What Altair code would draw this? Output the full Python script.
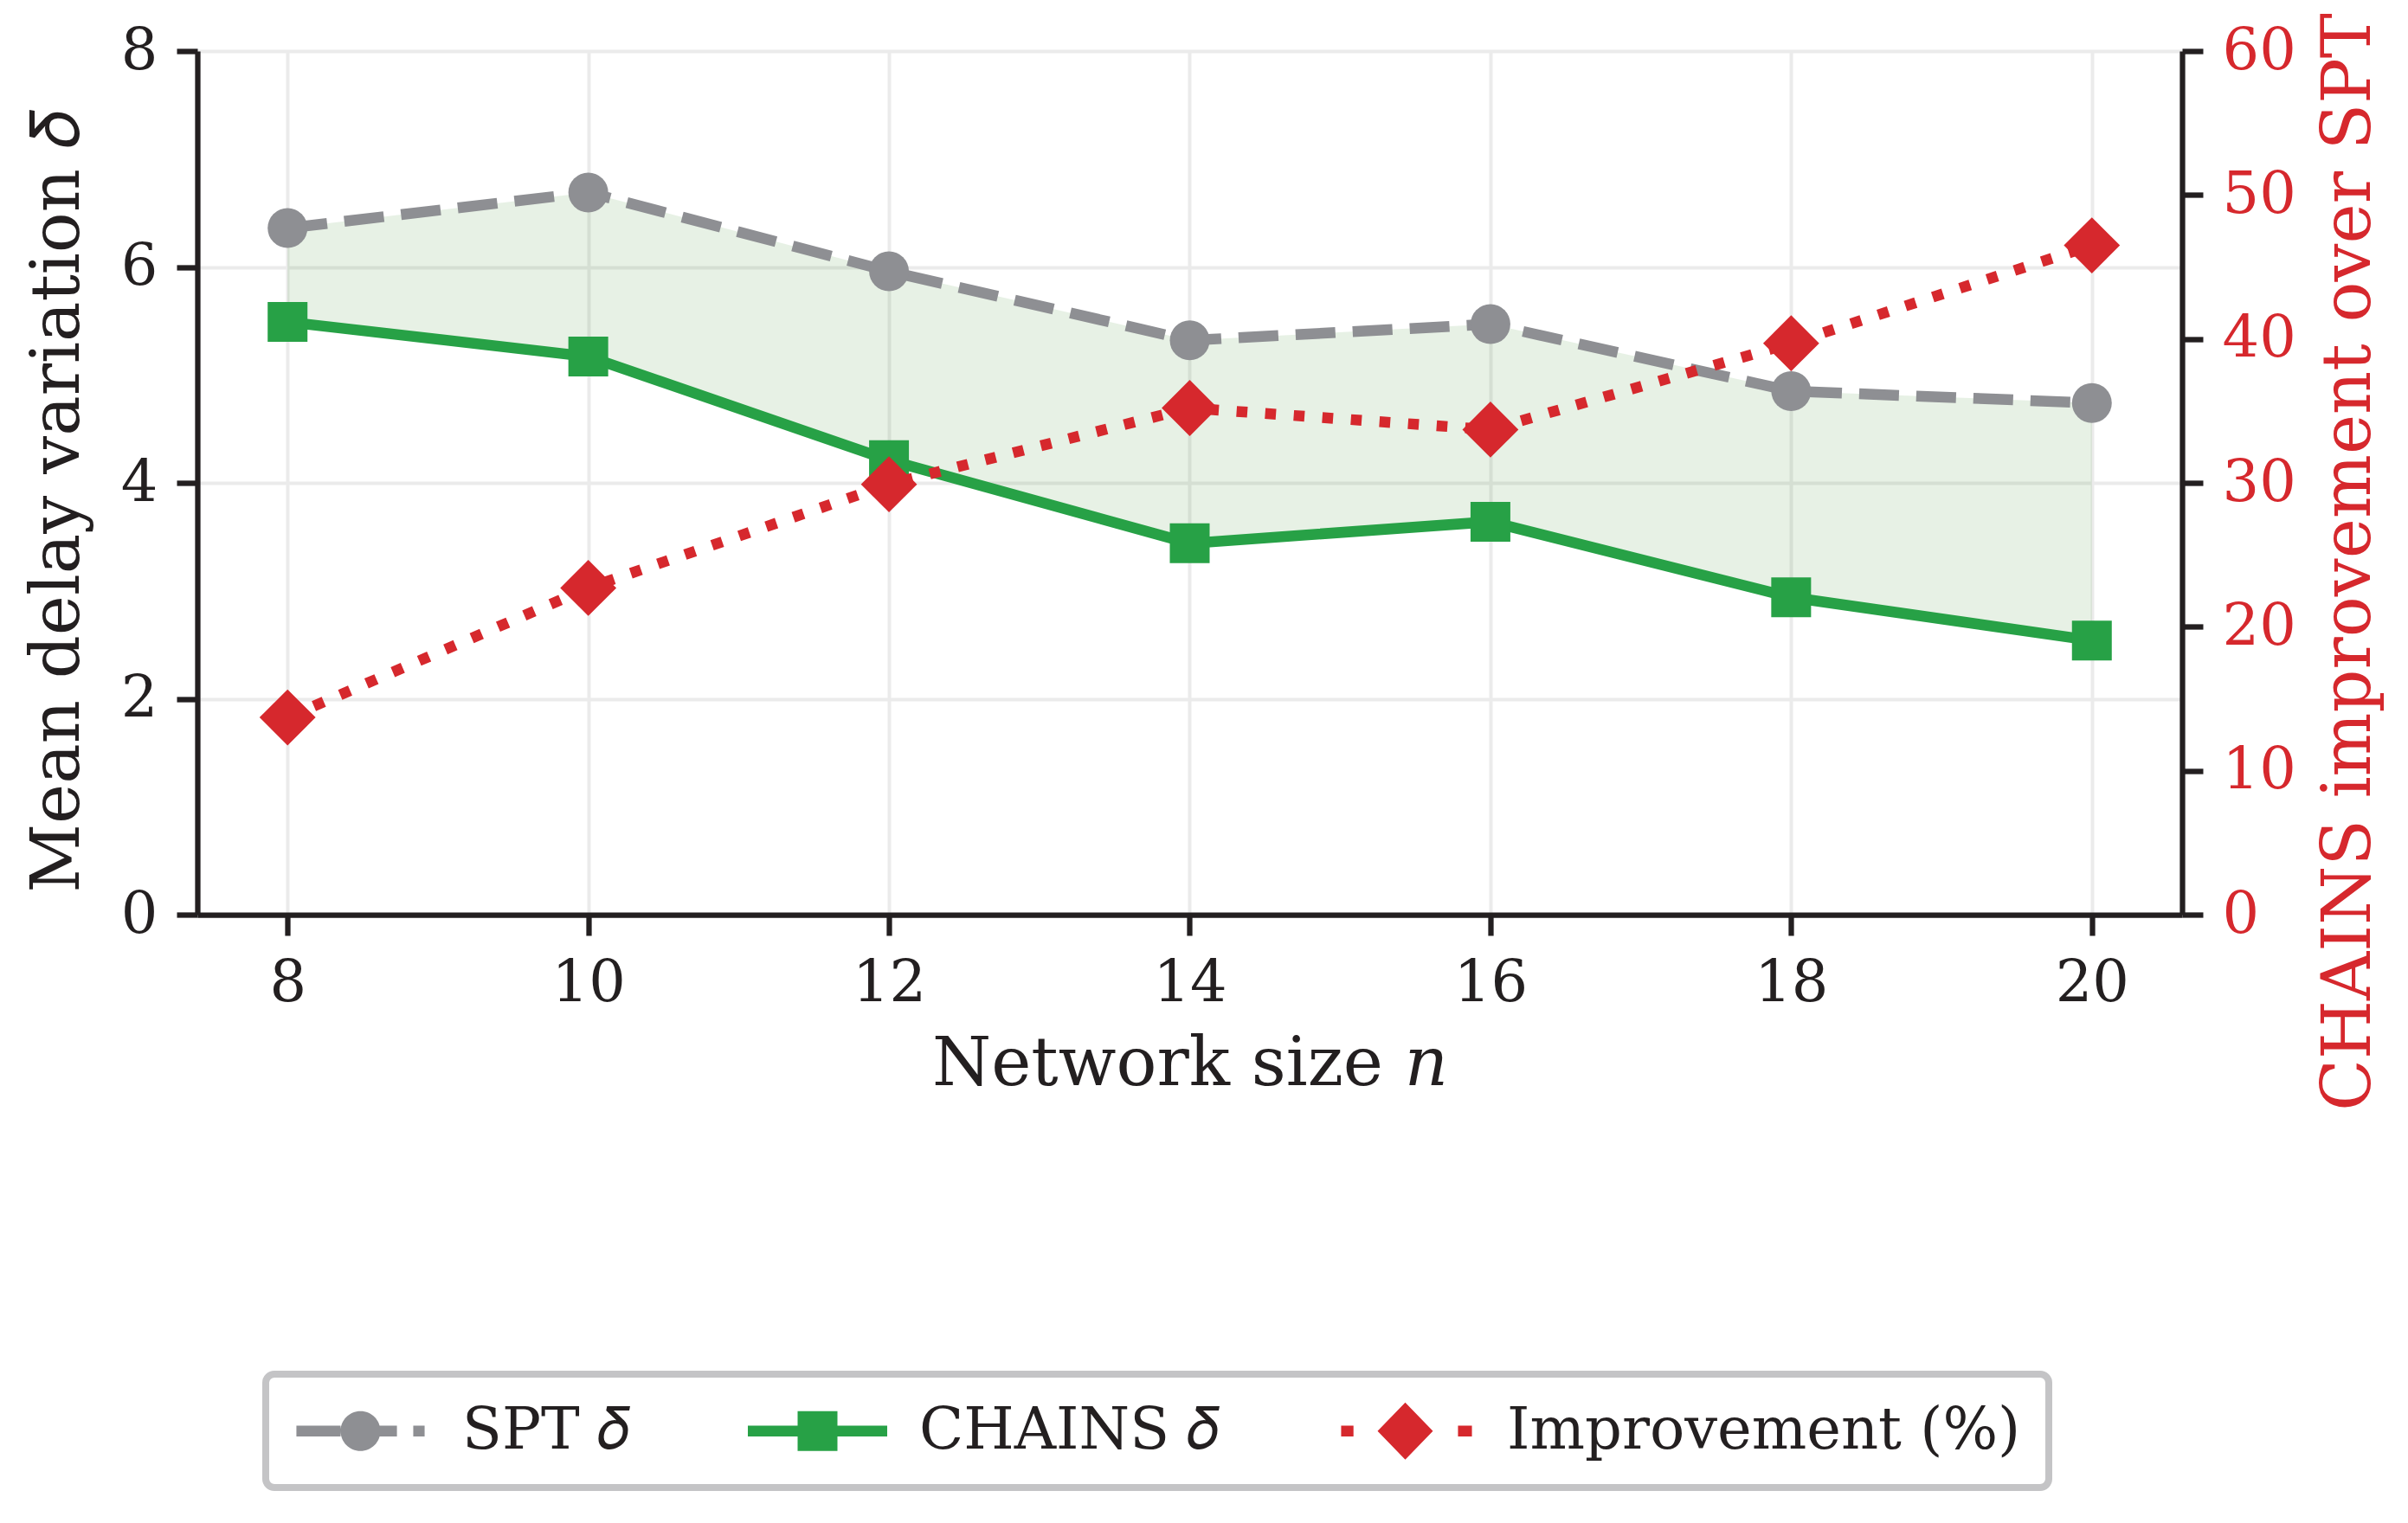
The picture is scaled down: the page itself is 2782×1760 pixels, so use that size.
import altair as alt
import pandas as pd

# values
network_sizes = [8, 10, 12, 14, 16, 18, 20]
spt_delay = [6.36, 6.69, 5.96, 5.32, 5.47, 4.85, 4.74]
chains_delay = [5.49, 5.17, 4.21, 3.44, 3.64, 2.94, 2.54]
improvement = [13.7, 22.7, 29.9, 35.2, 33.7, 39.7, 46.5]

series_names = ["SPT 𝛿", "CHAINS 𝛿", "Improvement (%)"]
x_ticks = [8, 10, 12, 14, 16, 18, 20]
left_ticks = [0, 2, 4, 6, 8]
right_ticks = [0, 10, 20, 30, 40, 50, 60]

GRAY = "#8e8f93"
GREEN = "#27a146"
RED = "#d6282d"
INK = "#231f20"
FONT = "DejaVu Serif"
series_colors = [GRAY, GREEN, RED]

# legend handles (line piece + marker), unit = half a marker width
handle_paths = [
    "M-3.22,-0.27H-1V0.27H-3.22Z M1,0A1,1 0 1,1 -1,0A1,1 0 1,1 1,0Z "
    "M0.9,-0.27H1.83V0.27H0.9Z M2.65,-0.27H3.22V0.27H2.65Z",
    "M-3.5,-0.27H3.5V0.27H-3.5Z M-1,-1H1V1H-1Z",
    "M-3.22,-0.27H-2.6V0.27H-3.22Z M-1.39,0L0,-1.43L1.39,0L0,1.43Z "
    "M2.65,-0.27H3.35V0.27H2.65Z",
]

df = pd.DataFrame({
    "n": network_sizes,
    "spt": spt_delay,
    "chains": chains_delay,
    "improvement": improvement,
})
legend_df = pd.DataFrame({"series": series_names})

x_enc = alt.X(
    "n:Q",
    scale=alt.Scale(domain=[7.4, 20.6], nice=False, zero=False),
    axis=alt.Axis(values=x_ticks, format="d", title="Network size 𝑛", titleY=134),
)

left_scale = alt.Scale(domain=[0, 8], nice=False)
left_axis = alt.Axis(
    values=left_ticks,
    title="Mean delay variation 𝛿",
    titleAngle=270,
    titleBaseline="bottom",
    titleX=-122,
    titleY=520,
)

right_axis = alt.Axis(
    orient="right",
    values=right_ticks,
    title="CHAINS improvement over SPT",
    titleAngle=270,
    titleBaseline="top",
    titleX=154,
    titleY=590,
    labelColor=RED,
    titleColor=RED,
)

band = alt.Chart(df).mark_area(color="#3a8a2a", opacity=0.12).encode(
    x=x_enc,
    y=alt.Y("spt:Q", scale=left_scale, axis=left_axis),
    y2="chains:Q",
)

spt_line = alt.Chart(df).mark_line(
    color=GRAY, strokeWidth=12.5, strokeDash=[46, 20]
).encode(x=x_enc, y=alt.Y("spt:Q", scale=left_scale, axis=left_axis))

spt_points = alt.Chart(df).mark_point(
    shape="circle", filled=True, size=2116, color=GRAY, opacity=1
).encode(x=x_enc, y=alt.Y("spt:Q", scale=left_scale, axis=left_axis))

chains_line = alt.Chart(df).mark_line(
    color=GREEN, strokeWidth=12.5
).encode(x=x_enc, y=alt.Y("chains:Q", scale=left_scale, axis=left_axis))

chains_points = alt.Chart(df).mark_point(
    shape="square", filled=True, size=2116, color=GREEN, opacity=1
).encode(x=x_enc, y=alt.Y("chains:Q", scale=left_scale, axis=left_axis))

legend_spec = alt.Legend(
    title=None,
    orient="none",
    legendX=79,
    legendY=1529,
    direction="horizontal",
    columns=3,
    symbolSize=2116,
    symbolOffset=44,
    symbolOpacity=1,
    symbolStrokeWidth=0,
    labelOffset=84,
    columnPadding=136,
    padding=32,
    labelFont=FONT,
    labelFontSize=67,
    labelColor=INK,
    labelLimit=0,
    strokeColor="#c4c4c6",
    fillColor="white",
    cornerRadius=10,
)

legend_layer = alt.Chart(legend_df).mark_point(filled=True, opacity=0).encode(
    color=alt.Color("series:N", scale=alt.Scale(domain=series_names, range=series_colors),
                    legend=legend_spec),
    shape=alt.Shape("series:N", scale=alt.Scale(domain=series_names, range=handle_paths),
                    legend=legend_spec),
)

impr_line = alt.Chart(df).mark_line(
    color=RED, strokeWidth=12.5, strokeDash=[12.5, 20.6]
).encode(
    x=x_enc,
    y=alt.Y("improvement:Q", scale=alt.Scale(domain=[0, 60], nice=False), axis=right_axis),
)

impr_points = alt.Chart(df).mark_point(
    shape="diamond", filled=True, size=4200, color=RED, opacity=1
).encode(
    x=x_enc,
    y=alt.Y("improvement:Q", scale=alt.Scale(domain=[0, 60], nice=False), axis=right_axis),
)

left = alt.layer(band, spt_line, spt_points, chains_line, chains_points, legend_layer)
right = alt.layer(impr_line, impr_points)

chart = alt.layer(left, right).resolve_scale(y="independent").properties(
    width=2293,
    height=998,
    autosize=alt.AutoSizeParams(type="none"),
    padding={"left": 220, "top": 51, "right": 250, "bottom": 690},
).configure_view(
    stroke=None
).configure_axis(
    labelFont=FONT,
    labelFontSize=67,
    labelColor=INK,
    labelPadding=22,
    titleFont=FONT,
    titleFontSize=78,
    titleFontWeight="normal",
    titleColor=INK,
    domainColor=INK,
    domainWidth=6.25,
    tickColor=INK,
    tickWidth=6.25,
    tickSize=24,
    grid=True,
    gridColor="#ebebeb",
    gridWidth=4,
).configure_legend(
    strokeWidth=8
)

chart.save("out.html", embed_options={"renderer": "svg", "actions": False})
